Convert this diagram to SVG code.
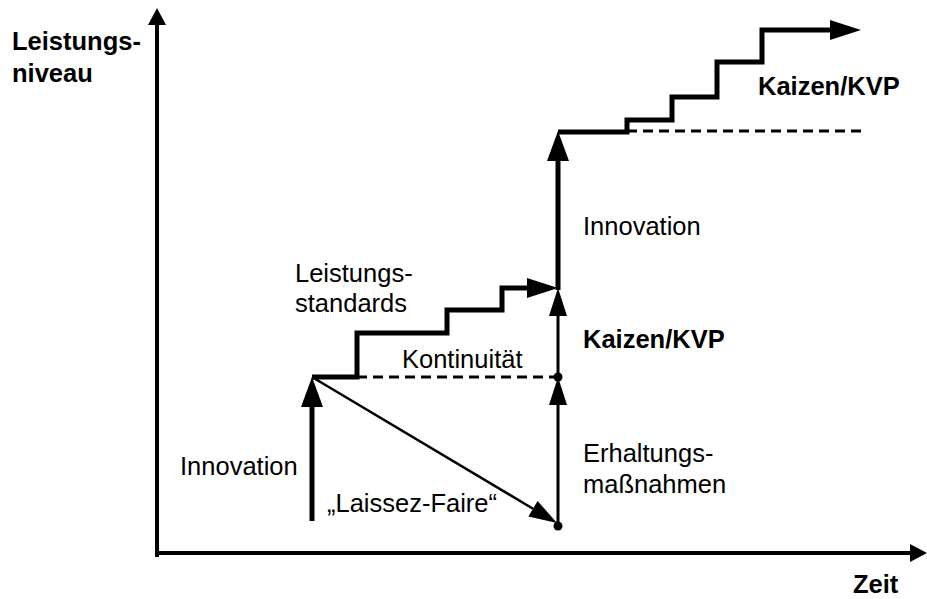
<svg xmlns="http://www.w3.org/2000/svg" width="927" height="599" viewBox="0 0 927 599">
  <style>
    text { font-family: "Liberation Sans", Arial, sans-serif; font-size: 25.5px; fill: #000; }
    .b { font-weight: bold; }
    .axis { stroke: #000; stroke-width: 4; fill: none; }
    .thick { stroke: #000; stroke-width: 5; fill: none; stroke-linejoin: miter; }
    .thin { stroke: #000; stroke-width: 3; fill: none; }
    .diag { stroke: #000; stroke-width: 2.5; fill: none; }
    .dash { stroke: #000; stroke-width: 3; fill: none; stroke-dasharray: 10 6; }
  </style>
  <defs>
    <marker id="ah-axis" markerUnits="userSpaceOnUse" viewBox="0 -9 17 18" markerWidth="17" markerHeight="18" refX="0" refY="0" orient="auto" overflow="visible">
      <path d="M0,-9 L17,0 L0,9 z" fill="#000"/>
    </marker>
    <marker id="ah-big" markerUnits="userSpaceOnUse" viewBox="0 -11 30 22" markerWidth="30" markerHeight="22" refX="0" refY="0" orient="auto" overflow="visible">
      <path d="M0,-11 L30,0 L0,11 z" fill="#000"/>
    </marker>
    <marker id="ah-step" markerUnits="userSpaceOnUse" viewBox="0 -10 31 20" markerWidth="31" markerHeight="20" refX="0" refY="0" orient="auto" overflow="visible">
      <path d="M0,-10 L31,0 L0,10 z" fill="#000"/>
    </marker>
    <marker id="ah-small" markerUnits="userSpaceOnUse" viewBox="0 -9 28 18" markerWidth="28" markerHeight="18" refX="0" refY="0" orient="auto" overflow="visible">
      <path d="M0,-9 L28,0 L0,9 z" fill="#000"/>
    </marker>
  </defs>

  <!-- axes -->
  <g id="axes">
    <line class="axis" x1="157" y1="557" x2="157" y2="25" marker-end="url(#ah-axis)"/>
    <line class="axis" x1="155" y1="553" x2="910" y2="553" marker-end="url(#ah-axis)"/>
    <text class="b" x="12" y="50">Leistungs-</text>
    <text class="b" x="12" y="82">niveau</text>
    <text class="b" x="853" y="593">Zeit</text>
  </g>

  <!-- connectors -->
  <g id="connectors">
    <!-- first innovation jump -->
    <line class="thick" x1="312" y1="521" x2="312" y2="407" marker-end="url(#ah-big)"/>
    <!-- staircase of performance standards -->
    <polyline class="thick" points="312,377 357,377 357,333 447,333 447,310 502,310 502,288 527,288" marker-end="url(#ah-step)"/>
    <!-- continuity baseline -->
    <line class="dash" x1="357" y1="377" x2="558" y2="377"/>
    <!-- laissez-faire decline -->
    <line class="diag" x1="312" y1="377" x2="533" y2="508.7" marker-end="url(#ah-small)"/>
    <!-- maintenance and kaizen -->
    <line class="thin" x1="558" y1="526" x2="558" y2="405" marker-end="url(#ah-small)"/>
    <line class="thin" x1="558" y1="377" x2="558" y2="316" marker-end="url(#ah-small)"/>
    <!-- second innovation jump -->
    <line class="thick" x1="558" y1="290" x2="558" y2="161" marker-end="url(#ah-big)"/>
    <!-- upper kaizen staircase -->
    <polyline class="thick" points="558,132 627,132 627,120 672,120 672,97 717,97 717,62 762,62 762,30 830,30" marker-end="url(#ah-step)"/>
    <line class="dash" x1="627" y1="131" x2="862" y2="131"/>
    <circle cx="558" cy="377" r="4.5" fill="#000"/>
    <circle cx="558" cy="526" r="4.5" fill="#000"/>
  </g>

  <!-- labels -->
  <g id="label-innovation-left"><text x="180" y="475">Innovation</text></g>
  <g id="label-standards">
    <text x="295" y="282">Leistungs-</text>
    <text x="295" y="312">standards</text>
  </g>
  <g id="label-continuity"><text x="402" y="368">Kontinuität</text></g>
  <g id="label-laissez"><text x="327" y="512">„Laissez-Faire“</text></g>
  <g id="label-innovation-right"><text x="583" y="235">Innovation</text></g>
  <g id="label-kaizen-mid"><text class="b" x="583" y="348">Kaizen/KVP</text></g>
  <g id="label-maintenance">
    <text x="583" y="462">Erhaltungs-</text>
    <text x="583" y="493">maßnahmen</text>
  </g>
  <g id="label-kaizen-top"><text class="b" x="758" y="95">Kaizen/KVP</text></g>
</svg>
